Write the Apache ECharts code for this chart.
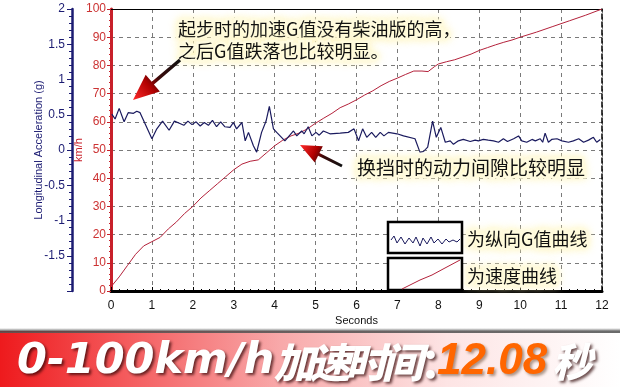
<!DOCTYPE html>
<html>
<head>
<meta charset="utf-8">
<script src="https://cdn.jsdelivr.net/npm/echarts@6/dist/echarts.min.js"></script>
<style>
html,body{margin:0;padding:0;background:#fff;}
#c{width:620px;height:387px;}
</style>
</head>
<body>
<div id="c"></div>
<script>
// ---- data ----
const timeTicks = [0,1,2,3,4,5,6,7,8,9,10,11,12];
const speedTicks = [0,10,20,30,40,50,60,70,80,90,100];
const accelTicks = [-2,-1.5,-1,-0.5,0,0.5,1,1.5,2];

// speed (km/h) vs time (s)
const speedData = [
  [0,1.5],[0.2,5],[0.4,9],[0.6,13],[0.8,16],[1.0,17.5],[1.2,19],[1.4,22],[1.6,24.5],[1.8,27.5],
  [2.0,30],[2.2,33],[2.4,35.5],[2.6,38],[2.8,40.5],[3.0,43],[3.2,45],[3.4,46],[3.6,46.5],[3.8,49],
  [4.0,51.5],[4.2,53.5],[4.4,55],[4.6,56],[4.8,57.5],[5.0,59.5],[5.2,61.3],[5.4,63],[5.6,65],[5.8,66.3],
  [6.0,67.8],[6.2,69.5],[6.4,71],[6.6,72.8],[6.8,74.3],[7.0,75.5],[7.2,76.8],[7.4,78],[7.6,78],[7.75,77.8],
  [7.9,79.5],[8.0,80.5],[8.2,81.3],[8.4,82],[8.6,83],[8.8,84],[9.0,85.3],[9.2,86.3],[9.4,87.3],[9.6,88.2],
  [9.8,89],[10.0,90],[10.4,91.8],[10.8,93.8],[11.2,95.8],[11.6,97.8],[12.0,100]
];

// longitudinal acceleration (g) vs time (s)
const accelData = [
  [0.02,0.51],[0.10,0.44],[0.20,0.59],[0.32,0.40],[0.42,0.53],[0.55,0.52],[0.63,0.55],[0.71,0.53],[0.85,0.35],[1.00,0.16],
  [1.12,0.30],[1.26,0.41],[1.42,0.28],[1.55,0.41],[1.67,0.38],[1.78,0.35],[1.88,0.41],[1.98,0.36],[2.08,0.40],[2.18,0.34],
  [2.28,0.39],[2.38,0.35],[2.48,0.42],[2.58,0.33],[2.68,0.40],[2.78,0.33],[2.91,0.32],[2.99,0.39],[3.07,0.30],[3.20,0.39],
  [3.28,0.13],[3.36,0.25],[3.48,0.06],[3.56,-0.03],[3.68,0.25],[3.79,0.41],[3.87,0.62],[3.97,0.30],[4.05,0.25],[4.25,0.13],
  [4.46,0.27],[4.54,0.20],[4.66,0.27],[4.72,0.23],[4.82,0.33],[4.91,0.20],[5.01,0.25],[5.09,0.21],[5.19,0.27],[5.35,0.23],
  [5.60,0.24],[5.80,0.25],[5.94,0.30],[6.05,0.13],[6.15,0.30],[6.25,0.18],[6.37,0.25],[6.47,0.18],[6.58,0.25],[6.67,0.20],
  [6.78,0.25],[6.99,0.23],[7.15,0.20],[7.43,0.16],[7.55,-0.03],[7.64,-0.02],[7.74,0.04],[7.86,0.41],[7.95,0.18],[8.06,0.32],
  [8.17,0.11],[8.29,0.13],[8.37,0.08],[8.49,0.13],[8.61,0.15],[8.78,0.12],[8.90,0.14],[8.98,0.13],[9.10,0.15],[9.22,0.14],
  [9.35,0.13],[9.47,0.11],[9.59,0.16],[9.69,0.12],[9.84,0.16],[9.96,0.20],[10.04,0.13],[10.16,0.11],[10.29,0.15],[10.37,0.13],
  [10.49,0.16],[10.55,0.11],[10.61,0.24],[10.69,0.11],[10.77,0.15],[10.90,0.16],[11.02,0.13],[11.18,0.11],[11.30,0.13],[11.43,0.16],
  [11.55,0.11],[11.67,0.14],[11.79,0.18],[11.87,0.11],[11.96,0.15]
];

const note1 = '起步时的加速G值没有柴油版的高，\n之后G值跌落也比较明显。';
const note2 = '换挡时的动力间隙比较明显';
const legendAccel = '为纵向G值曲线';
const legendSpeed = '为速度曲线';
const bannerLatin = '0-100km/h';
const bannerCjk = '加速时间';
const bannerColon = '：';
const bannerNumber = '12.08';
const bannerUnit = '秒';

// ---- chart ----
const chart = echarts.init(document.getElementById('c'), null, {renderer:'canvas'});
const NAVY = '#1b1b72', RED = '#c8202a', LATIN = '"Liberation Sans", Arial, sans-serif', CJK = '"Noto Sans CJK SC", sans-serif';
const halo = {textBorderColor:'#fffce4', textBorderWidth:5, textShadowColor:'rgba(255,246,185,0.85)', textShadowBlur:8};
const noteStyle = (size) => Object.assign({fontFamily:CJK, fontSize:size, fontWeight:'normal', color:'#111', lineHeight:22}, halo);

const wShadow = {textShadowColor:'rgba(40,0,0,0.7)', textShadowBlur:3, textShadowOffsetX:2, textShadowOffsetY:2};
const bannerText =
  '{a|' + bannerLatin + '}' +
  bannerCjk.split('').map(ch => '{b|' + ch + '}').join('') +
  '{d|' + bannerColon + '}';

function arrow(tail, tip, headLen, headHalf, shaftHalf){
  const dx = tip[0]-tail[0], dy = tip[1]-tail[1], L = Math.hypot(dx,dy);
  const ux = dx/L, uy = dy/L, nx = -uy, ny = ux;
  const bx = tip[0]-ux*headLen, by = tip[1]-uy*headLen;
  return {
    type:'polygon', z:20,
    shape:{points:[
      [tail[0]+nx*shaftHalf, tail[1]+ny*shaftHalf],
      [bx+nx*shaftHalf, by+ny*shaftHalf],
      [bx+nx*headHalf, by+ny*headHalf],
      tip,
      [bx-nx*headHalf, by-ny*headHalf],
      [bx-nx*shaftHalf, by-ny*shaftHalf],
      [tail[0]-nx*shaftHalf, tail[1]-ny*shaftHalf]
    ]},
    style:{fill:new echarts.graphic.LinearGradient(tail[0],tail[1],tip[0],tip[1],[
      {offset:0,color:'#111'},{offset:0.45,color:'#3a0a0a'},{offset:0.65,color:'#b00000'},{offset:1,color:'#ff2a2a'}],true)}
  };
}

chart.setOption({
  animation:false,
  backgroundColor:'#fff',
  grid:{left:111, right:18, top:9, bottom:96},
  title:[
    {left:178, top:18, padding:0, text:note1, textStyle:noteStyle(18)},
    {left:357, top:157, padding:0, text:note2, textStyle:noteStyle(19)},
    {left:467, top:228, padding:0, text:legendAccel, textStyle:noteStyle(18)},
    {left:467, top:265, padding:0, text:legendSpeed, textStyle:noteStyle(18)},
    {left:17, top:337, padding:0, z:8, text:bannerText,
     textStyle:{rich:{
       a:Object.assign({fontFamily:'"DejaVu Sans", sans-serif', fontSize:43, fontWeight:'bold', fontStyle:'italic', color:'#fff', lineHeight:50, padding:[0,2,0,0]}, wShadow),
       b:Object.assign({fontFamily:CJK, fontSize:41, fontWeight:900, fontStyle:'italic', color:'#fff', lineHeight:50, width:36, align:'center'}, wShadow),
       d:Object.assign({fontFamily:CJK, fontSize:41, fontWeight:900, color:'#fff', lineHeight:50}, wShadow)
     }}},
    {left:437, top:337, padding:0, z:8, text:bannerNumber,
     textStyle:{fontFamily:LATIN, fontSize:44, fontWeight:'bold', fontStyle:'italic', color:'#ff6600', lineHeight:50,
          textShadowColor:'rgba(70,30,0,0.45)', textShadowBlur:3, textShadowOffsetX:2, textShadowOffsetY:2}},
    {left:552, top:337, padding:0, z:8, text:bannerUnit,
     textStyle:Object.assign({fontFamily:CJK, fontSize:40, fontWeight:900, fontStyle:'italic', color:'#fff', lineHeight:50}, wShadow)}
  ],
  xAxis:[
    {type:'value', min:0, max:12, interval:1, position:'bottom',
     name:'Seconds', nameLocation:'middle', nameGap:24, nameMoveOverlap:false,
     nameTextStyle:{fontFamily:LATIN, fontSize:11, color:'#111'},
     axisLine:{show:true, onZero:false, lineStyle:{color:'#000', width:3}},
     axisTick:{show:true, inside:true, length:4, lineStyle:{color:'#000'}},
     minorTick:{show:true, splitNumber:5, length:2, lineStyle:{color:'#000'}},
     axisLabel:{fontFamily:LATIN, fontSize:12, color:'#111', margin:9, formatter:v=>timeTicks.includes(v)?String(v):''},
     splitLine:{show:true, lineStyle:{color:'#7a7a7a', type:[4,4], width:1}}},
    {type:'value', min:0, max:12, position:'top',
     axisLine:{show:true, onZero:false, lineStyle:{color:'#000', width:1}},
     axisTick:{show:false}, axisLabel:{show:false}, splitLine:{show:false}}
  ],
  yAxis:[
    {type:'value', min:0, max:100, interval:10, position:'left', offset:0,
     name:'km/h', nameLocation:'middle', nameGap:27, nameRotate:90, nameMoveOverlap:false,
     nameTextStyle:{fontFamily:LATIN, fontSize:11, color:RED},
     axisLine:{show:true, onZero:false, lineStyle:{color:RED, width:3}},
     axisTick:{show:true, length:4, lineStyle:{color:RED}},
     minorTick:{show:true, splitNumber:5, length:2, lineStyle:{color:RED}},
     axisLabel:{fontFamily:LATIN, fontSize:12, color:'#cc3333', margin:5, formatter:v=>speedTicks.includes(v)?String(v):''},
     splitLine:{show:true, lineStyle:{color:'#7a7a7a', type:[4,4], width:1}}},
    {type:'value', min:-2, max:2, interval:0.5, position:'left', offset:39,
     name:'Longitudinal Acceleration (g)', nameLocation:'middle', nameGap:28, nameRotate:90, nameMoveOverlap:false,
     nameTextStyle:{fontFamily:LATIN, fontSize:11, color:NAVY},
     axisLine:{show:true, onZero:false, lineStyle:{color:NAVY, width:2.5}},
     axisTick:{show:true, length:5, lineStyle:{color:NAVY}},
     minorTick:{show:true, splitNumber:5, length:3, lineStyle:{color:NAVY}},
     axisLabel:{fontFamily:LATIN, fontSize:12, color:NAVY, margin:7, showMinLabel:false,
       formatter:v=>accelTicks.includes(v)?String(v):''},
     splitLine:{show:false}},
    {type:'value', min:0, max:100, position:'right',
     axisLine:{show:true, onZero:false, lineStyle:{color:'#000', width:1.5, type:[5,3]}},
     axisTick:{show:false}, axisLabel:{show:false}, splitLine:{show:false}}
  ],
  series:[
    {type:'line', name:'speed', xAxisIndex:0, yAxisIndex:0, data:speedData, showSymbol:false, z:3,
     lineStyle:{color:'#b3213a', width:1}},
    {type:'line', name:'accel', xAxisIndex:0, yAxisIndex:1, data:accelData, showSymbol:false, z:4,
     lineStyle:{color:'#1a1a5e', width:1.2}}
  ],
  graphic:[
    {type:'rect', z:5, shape:{x:0, y:331, width:620, height:56},
     style:{fill:new echarts.graphic.LinearGradient(0,0,1,0,[
       {offset:0,color:'#ee1a1d'},{offset:0.2,color:'#f45a5c'},{offset:0.45,color:'#f8a8a9'},{offset:0.72,color:'#fde4e4'},{offset:1,color:'#ffffff'}])}},
    {type:'rect', z:6, shape:{x:0, y:328, width:620, height:5},
     style:{fill:new echarts.graphic.LinearGradient(0,0,0,1,[
       {offset:0,color:'rgba(120,120,120,0)'},{offset:0.6,color:'rgba(70,70,70,0.8)'},{offset:1,color:'rgba(90,90,90,0.9)'}])}},
    {type:'rect', z:10, shape:{x:388, y:222, width:74, height:31}, style:{fill:'#fff', stroke:'#000', lineWidth:2.5}},
    {type:'rect', z:10, shape:{x:388, y:258, width:74, height:32}, style:{fill:'#fff', stroke:'#000', lineWidth:2.5}},
    {type:'polyline', z:11, shape:{points:[[391,240],[394,236],[397,243],[401,237],[405,244],[409,238],[413,243],[416,237],[420,246],[423,238],[427,244],[431,237],[434,243],[438,239],[442,244],[446,239],[449,242],[453,240],[457,242],[460,239]]},
     style:{stroke:'#1a1a5e', lineWidth:1, fill:null}},
    {type:'polyline', z:11, shape:{points:[[402,289],[420,280],[432,275],[445,268],[460,260]]},
     style:{stroke:'#b3213a', lineWidth:1, fill:null}},
    arrow([180,60],[133,100],26,11,1.7),
    arrow([342,166],[300,145],21,9,1.5)
  ]
});
</script>
</body>
</html>
